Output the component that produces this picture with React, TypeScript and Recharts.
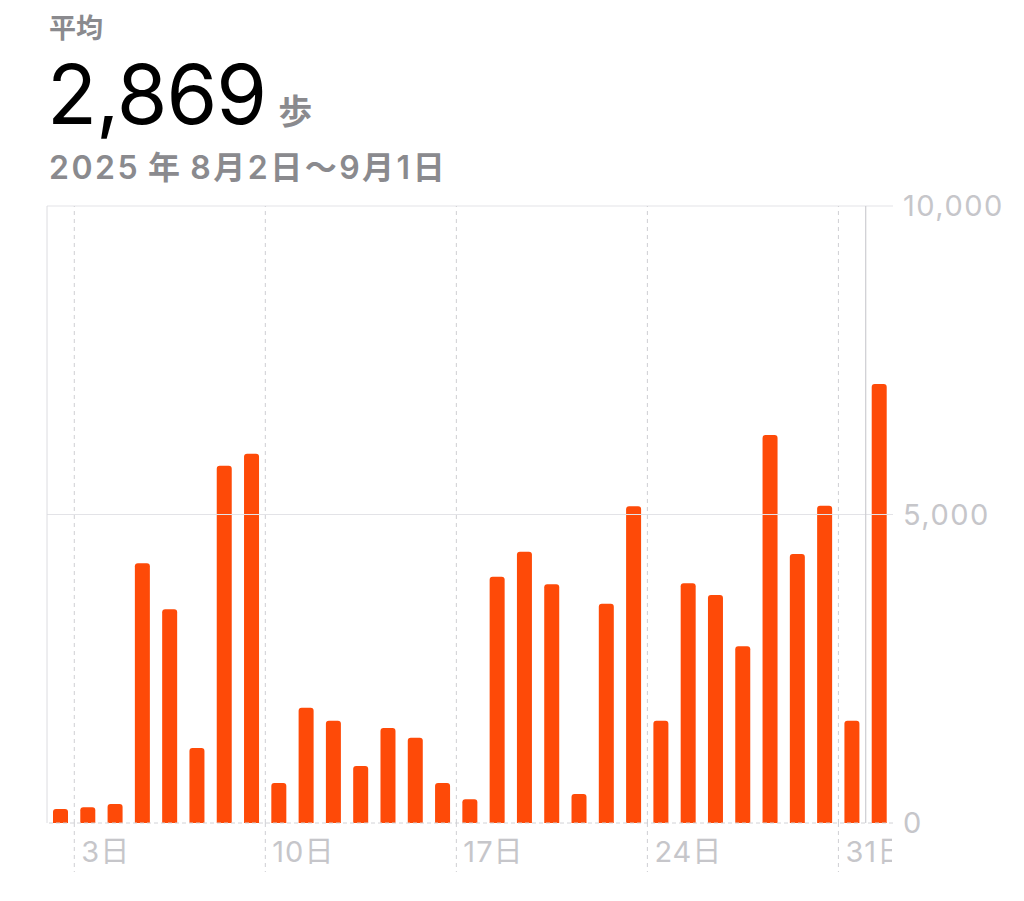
import { BarChart, Bar, XAxis, YAxis, ReferenceLine } from 'recharts'

// Aug 2 – Sep 1, 2025 daily steps
const dayLabels = [
  '8/2', '8/3', '8/4', '8/5', '8/6', '8/7', '8/8', '8/9', '8/10', '8/11',
  '8/12', '8/13', '8/14', '8/15', '8/16', '8/17', '8/18', '8/19', '8/20', '8/21',
  '8/22', '8/23', '8/24', '8/25', '8/26', '8/27', '8/28', '8/29', '8/30', '8/31', '9/1',
]
const steps = [
  227, 254, 308, 4210, 3463, 1215, 5791, 5986, 648, 1869,
  1658, 924, 1540, 1383, 648, 384, 3992, 4397, 3868, 470,
  3554, 5133, 1658, 3885, 3695, 2864, 6288, 4360, 5143, 1658, 7115,
]
const weekTicks = [1, 8, 15, 22, 29]
const weekTickLabels = ['3日', '10日', '17日', '24日', '31日']
const monthStart = 30
const yTicks = [0, 5000, 10000]

const data = steps.map((s, i) => ({ day: dayLabels[i], x: i + 0.5, steps: s }))

const W = 1024
const H = 901
const PLOT_RIGHT = 893
const FONT = "Inter, 'Noto Sans CJK JP', sans-serif"
const LABEL = '#c6c6ca'
const GREY = '#8a8a8e'

function WeekTick(props: any) {
  const { x, y, payload } = props
  const idx = weekTicks.indexOf(payload.value)
  const id = `clip-${payload.value}`
  return (
    <g>
      <defs>
        <clipPath id={id}>
          <rect x={0} y={0} width={PLOT_RIGHT - 1} height={H} />
        </clipPath>
      </defs>
      <line x1={x} x2={x} y1={y} y2={y + 49} stroke="#cfcfd3" strokeDasharray="4 4" />
      <text x={x + 7} y={y + 39} fill={LABEL} fontSize={29} letterSpacing={1} fontFamily={FONT} clipPath={`url(#${id})`}>
        {weekTickLabels[idx]}
      </text>
    </g>
  )
}

// bar with a small white gap around it, so gridlines stop short of the bar
function GapBar(props: any) {
  const { x, y, width, height, fill } = props
  if (!height || height <= 0) return null
  const r = Math.min(3, height)
  const g = 4
  const d = `M${x},${y + height} L${x},${y + r} Q${x},${y} ${x + r},${y} L${x + width - r},${y} Q${x + width},${y} ${x + width},${y + r} L${x + width},${y + height} Z`
  return (
    <g>
      <rect x={x - g} y={y - g} width={width + 2 * g} height={height + g} rx={g} fill="#fff" />
      <path d={d} fill={fill} />
    </g>
  )
}

export default function App() {
  return (
    <div style={{ position: 'absolute', left: 0, top: 0, width: W, height: H, background: '#fff', fontFamily: FONT }}>
      <div style={{ position: 'absolute', left: 49, top: 14, fontSize: 27, lineHeight: '30px', fontWeight: 600, color: GREY }}>平均</div>
      <div style={{ position: 'absolute', left: 47, top: 54, whiteSpace: 'nowrap', display: 'flex', alignItems: 'baseline', lineHeight: '82px' }}>
        <span style={{ fontSize: 82, fontWeight: 400, color: '#000', letterSpacing: -1 }}>2,869</span>
        <span style={{ fontSize: 34, fontWeight: 600, color: GREY, marginLeft: 12 }}>歩</span>
      </div>
      <div style={{ position: 'absolute', left: 49, top: 142, fontSize: 32, fontWeight: 600, color: GREY, letterSpacing: 2.5, whiteSpace: 'nowrap' }}>
        2025{'\u2009'}年{'\u2009'}8月2日〜9月1日
      </div>
      <div style={{ position: 'absolute', left: 0, top: 0 }}>
        <BarChart width={W} height={H} data={data} margin={{ top: 206, left: 47, right: 0, bottom: 18 }}>
          <XAxis
            dataKey="x"
            type="number"
            domain={[0, 31]}
            ticks={weekTicks}
            interval={0}
            axisLine={false}
            tickLine={false}
            tickSize={0}
            tickMargin={0}
            height={60}
            tick={<WeekTick />}
          />
          <YAxis
            orientation="right"
            domain={[0, 10000]}
            ticks={yTicks}
            width={131}
            axisLine={false}
            tickLine={false}
            tickSize={0}
            tickMargin={10}
            tick={{ fill: LABEL, fontSize: 29, letterSpacing: 1.5, fontFamily: FONT, textAnchor: 'start' }}
            tickFormatter={(v: number) => v.toLocaleString('en-US')}
          />
          <ReferenceLine y={10000} stroke="#e3e3e7" strokeWidth={1.2} />
          <ReferenceLine y={5000} stroke="#e3e3e7" strokeWidth={1.2} />
          <ReferenceLine y={0} stroke="#d2d2d6" strokeDasharray="4 3" />
          <ReferenceLine x={0} stroke="#dcdce0" />
          {weekTicks.map((t) => (
            <ReferenceLine key={t} x={t} stroke="#cfcfd3" strokeDasharray="4 4" />
          ))}
          <ReferenceLine x={monthStart} stroke="#cdcdd1" strokeWidth={1.2} />
          <Bar
            dataKey="steps"
            fill="#fe4a08"
            barSize={15}
            shape={<GapBar />}
            isAnimationActive={false}
          />
        </BarChart>
      </div>
    </div>
  )
}
